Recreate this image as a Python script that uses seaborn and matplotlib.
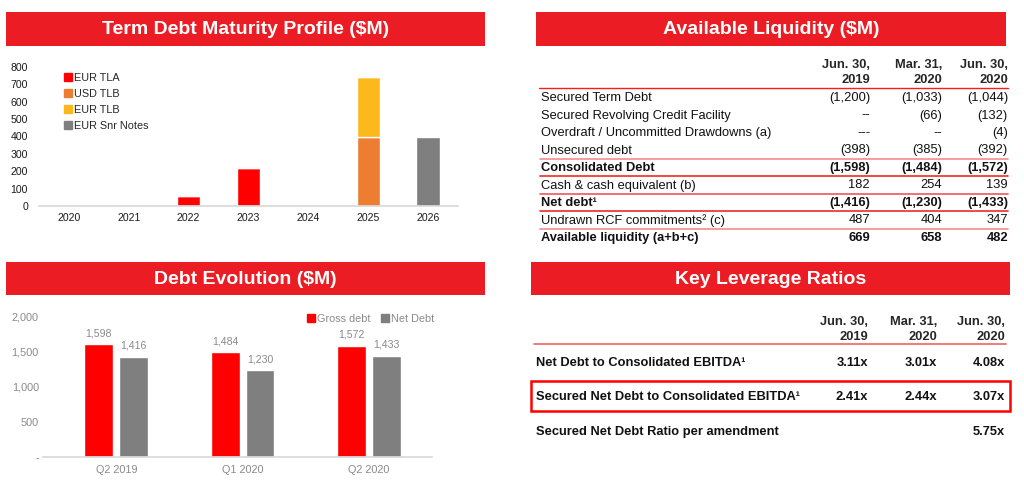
import numpy as np
import pandas as pd
import matplotlib
matplotlib.use("Agg")
import matplotlib.pyplot as plt
from matplotlib.patches import Rectangle
from matplotlib.lines import Line2D
import seaborn as sns

# Term debt maturity profile ($M)
years = ["2020", "2021", "2022", "2023", "2024", "2025", "2026"]
eur_tla = [0, 0, 58, 218, 0, 0, 0]
usd_tlb = [5, 5, 5, 5, 5, 395, 0]
eur_tlb = [0, 0, 0, 0, 0, 345, 0]
eur_snr_notes = [0, 0, 0, 0, 0, 0, 398]

# Debt evolution ($M)
quarters = ["Q2 2019", "Q1 2020", "Q2 2020"]
gross_debt = [1598, 1484, 1572]
net_debt = [1416, 1230, 1433]

# Available liquidity table
col_heads = [("Jun. 30,", "2019"), ("Mar. 31,", "2020"), ("Jun. 30,", "2020")]
liq_labels = ["Secured Term Debt", "Secured Revolving Credit Facility",
              "Overdraft / Uncommitted Drawdowns (a)", "Unsecured debt",
              "Consolidated Debt", "Cash & cash equivalent (b)", "Net debt\u00b9",
              "Undrawn RCF commitments\u00b2 (c)", "Available liquidity (a+b+c)"]
liq_jun19 = ["(1,200)", "--", "---", "(398)", "(1,598)", "182", "(1,416)", "487", "669"]
liq_mar20 = ["(1,033)", "(66)", "--", "(385)", "(1,484)", "254", "(1,230)", "404", "658"]
liq_jun20 = ["(1,044)", "(132)", "(4)", "(392)", "(1,572)", "139", "(1,433)", "347", "482"]
liq_bold = [False, False, False, False, True, False, True, False, True]

# Key leverage ratios
lev_labels = ["Net Debt to Consolidated EBITDA\u00b9",
              "Secured Net Debt to Consolidated EBITDA\u00b9",
              "Secured Net Debt Ratio per amendment"]
lev_jun19 = ["3.11x", "2.41x", ""]
lev_mar20 = ["3.01x", "2.44x", ""]
lev_jun20 = ["4.08x", "3.07x", "5.75x"]

RED_BANNER = "#ec1c24"
RED = "#ff0000"
ORANGE = "#ed7d31"
YELLOW = "#fdb81c"
GRAY = "#7f7f7f"
GRAY_TXT = "#8a8a8a"

sns.set_theme(style="white")
plt.rcParams["font.family"] = ["Liberation Sans", "DejaVu Sans"]

W, H = 1024, 482
fig = plt.figure(figsize=(W / 100, H / 100), dpi=100)


def fx(px):
    return px / W


def fy(py):
    return 1 - py / H


def banner(x0, x1, y0, y1, title):
    fig.add_artist(Rectangle((fx(x0), fy(y1)), (x1 - x0) / W, (y1 - y0) / H,
                             transform=fig.transFigure, facecolor=RED_BANNER,
                             edgecolor="none"))
    fig.text(fx((x0 + x1) / 2), fy((y0 + y1) / 2 + 0.5), title, color="white",
             fontsize=14, fontweight="bold", ha="center", va="center")


def hline(x0, x1, y, color, lw=1.0):
    fig.add_artist(Line2D([fx(x0), fx(x1)], [fy(y), fy(y)], color=color, lw=lw,
                          transform=fig.transFigure))


banner(6, 485, 12, 46, "Term Debt Maturity Profile ($M)")
banner(536, 1006, 12, 46, "Available Liquidity ($M)")
banner(6, 485, 262, 295, "Debt Evolution ($M)")
banner(531, 1010, 262, 295, "Key Leverage Ratios")

# 1. Term debt maturity profile (stacked bars)
ax1 = fig.add_axes([fx(39), fy(206), 419 / W, (206 - 67) / H])
series = [("EUR TLA", eur_tla, RED), ("USD TLB", usd_tlb, ORANGE),
          ("EUR TLB", eur_tlb, YELLOW), ("EUR Snr Notes", eur_snr_notes, GRAY)]
bottom = np.zeros(len(years))
for name, vals, col in series:
    sns.barplot(x=years, y=vals, bottom=bottom.copy(), color=col, width=0.39,
                saturation=1, errorbar=None, ax=ax1)
    bottom += np.array(vals, dtype=float)
ax1.set_xlim(-0.5, 6.5)
ax1.set_ylim(0, 800)
ax1.set_yticks(range(0, 801, 100))
ax1.tick_params(axis="both", length=0, labelsize=7.6, labelcolor="#1a1a1a")
ax1.tick_params(axis="y", pad=8)
ax1.tick_params(axis="x", pad=5)
for s in ["top", "right", "left"]:
    ax1.spines[s].set_visible(False)
ax1.spines["bottom"].set_color("#d9d9d9")
ax1.set_xlabel("")
ax1.set_ylabel("")
handles = [Line2D([], [], marker="s", linestyle="none", markersize=5.5, color=c)
           for _, _, c in series]
ax1.legend(handles, [n for n, _, _ in series], loc="upper left",
           bbox_to_anchor=(fx(64), fy(73)), bbox_transform=fig.transFigure,
           frameon=False, fontsize=7.8, handletextpad=0.1, labelspacing=0.55,
           borderpad=0, borderaxespad=0, handlelength=0.8)

# 2. Debt evolution (grouped bars)
df_evo = pd.DataFrame({"quarter": quarters * 2,
                       "value": gross_debt + net_debt,
                       "series": ["Gross debt"] * 3 + ["Net Debt"] * 3})
ax3 = fig.add_axes([fx(43), fy(457), 389 / W, (457 - 316) / H])
sns.barplot(data=df_evo, x="quarter", y="value", hue="series",
            palette=[RED, GRAY], width=0.55, gap=0.17, saturation=1,
            errorbar=None, ax=ax3)
for cont in ax3.containers:
    ax3.bar_label(cont, labels=[f"{v:,.0f}" for v in cont.datavalues],
                  padding=4.5, fontsize=7.6, color=GRAY_TXT)
ax3.set_xlim(-0.58, 2.5)
ax3.set_ylim(0, 2000)
ax3.set_yticks([0, 500, 1000, 1500, 2000])
ax3.set_yticklabels(["-", "500", "1,000", "1,500", "2,000"])
ax3.tick_params(axis="both", length=0, labelsize=7.8, labelcolor=GRAY_TXT)
ax3.tick_params(axis="y", pad=3)
ax3.tick_params(axis="x", pad=6)
for s in ["top", "right", "left"]:
    ax3.spines[s].set_visible(False)
ax3.spines["bottom"].set_color("#d9d9d9")
ax3.set_xlabel("")
ax3.set_ylabel("")
ax3.get_legend().remove()
h3 = [Line2D([], [], marker="s", linestyle="none", markersize=5.5, color=c)
      for c in [RED, GRAY]]
leg3 = ax3.legend(h3, ["Gross debt", "Net Debt"], ncol=2, loc="center left",
                  bbox_to_anchor=(fx(307), fy(319)), bbox_transform=fig.transFigure,
                  frameon=False, fontsize=7.8, handletextpad=0.1, columnspacing=1.0,
                  borderpad=0, borderaxespad=0, handlelength=0.8)
for t in leg3.get_texts():
    t.set_color(GRAY_TXT)

# 3. Available liquidity table
TS = 9.3
liq_right = [870, 942, 1008]
for (l1, l2), xr in zip(col_heads, liq_right):
    fig.text(fx(xr), fy(65), l1, ha="right", va="center", fontsize=TS, fontweight="bold")
    fig.text(fx(xr), fy(80), l2, ha="right", va="center", fontsize=TS, fontweight="bold")
hline(539, 1008, 87.5, "#ff1a1a", 1.0)
for i, lab in enumerate(liq_labels):
    y = 98 + 17.5 * i
    w = "bold" if liq_bold[i] else "normal"
    fig.text(fx(541), fy(y), lab, ha="left", va="center", fontsize=TS,
             fontweight=w, color="#111111")
    for vals, xr in zip([liq_jun19, liq_mar20, liq_jun20], liq_right):
        fig.text(fx(xr), fy(y), vals[i], ha="right", va="center", fontsize=TS,
                 fontweight=w, color="#111111")
line_cols = {3: "#f38d8d", 4: "#ee2a2a", 5: "#f05858", 6: "#ee2a2a", 7: "#f38d8d"}
for i, c in line_cols.items():
    hline(540, 1008, 98 + 17.5 * i + 8, c, 1.2)

# 4. Key leverage ratios table
lev_right = [868, 937, 1005]
for (l1, l2), xr in zip(col_heads, lev_right):
    fig.text(fx(xr), fy(322), l1, ha="right", va="center", fontsize=TS, fontweight="bold")
    fig.text(fx(xr), fy(337), l2, ha="right", va="center", fontsize=TS, fontweight="bold")
hline(534, 1006, 343.5, "#f07070", 1.3)
lev_y = [363, 397.5, 432]
for i, lab in enumerate(lev_labels):
    fig.text(fx(536), fy(lev_y[i]), lab, ha="left", va="center", fontsize=TS,
             fontweight="bold", color="#111111")
    for vals, xr in zip([lev_jun19, lev_mar20, lev_jun20], lev_right):
        fig.text(fx(xr), fy(lev_y[i]), vals[i], ha="right", va="center",
                 fontsize=TS, fontweight="bold", color="#111111")
fig.add_artist(Rectangle((fx(531), fy(411)), (1010 - 531) / W, (411 - 381) / H,
                         transform=fig.transFigure, facecolor="none",
                         edgecolor=RED, lw=1.8))

fig.savefig("out.png", dpi=100)
